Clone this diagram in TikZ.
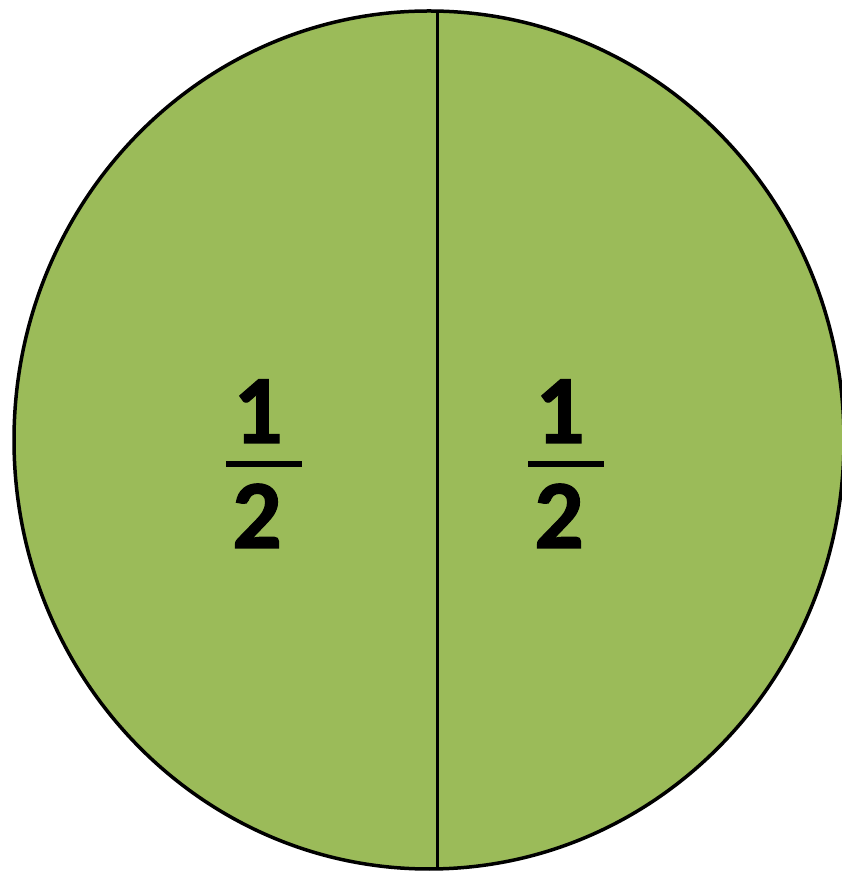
\documentclass[tikz,border=0pt]{standalone}
\usepackage{fontspec}
\usetikzlibrary{shapes.geometric}
\setmainfont{Carlito}
\newfontfamily\digitfont[BoldFeatures={FakeBold=1.2}]{Carlito}
\definecolor{discgreen}{RGB}{155,187,89}
\begin{document}
\begin{tikzpicture}[x=1pt,y=1pt,
  digit/.style={font=\digitfont\fontsize{98}{98}\selectfont\bfseries, inner sep=0pt, anchor=base},
  fbar/.style={line width=6.5pt}]
\useasboundingbox (0,0) rectangle (842,872);
\clip (0,0) rectangle (842,872);
\node[fill=discgreen, ellipse, minimum width=830pt, minimum height=858pt, inner sep=0pt] (disc) at (429,432) {};
\draw[line width=3pt] ([xshift=8pt]disc.north) -- ([xshift=8pt]disc.south);
\node[draw=black, line width=3.5pt, ellipse, minimum width=830pt, minimum height=858pt, inner sep=0pt] (rim) at (disc.center) {};
% left fraction
\node[digit] (n1) at (258,429) {1};
\node[digit] (d1) at (257,324) {2};
\coordinate (b1l) at (226,408);
\coordinate (b1r) at (302,408);
\draw[fbar] (b1l) -- (b1r);
% right fraction
\node[digit] (n2) at (560,429) {1};
\node[digit] (d2) at (559,324) {2};
\coordinate (b2l) at (528,408);
\coordinate (b2r) at (604,408);
\draw[fbar] (b2l) -- (b2r);
\end{tikzpicture}
\end{document}
